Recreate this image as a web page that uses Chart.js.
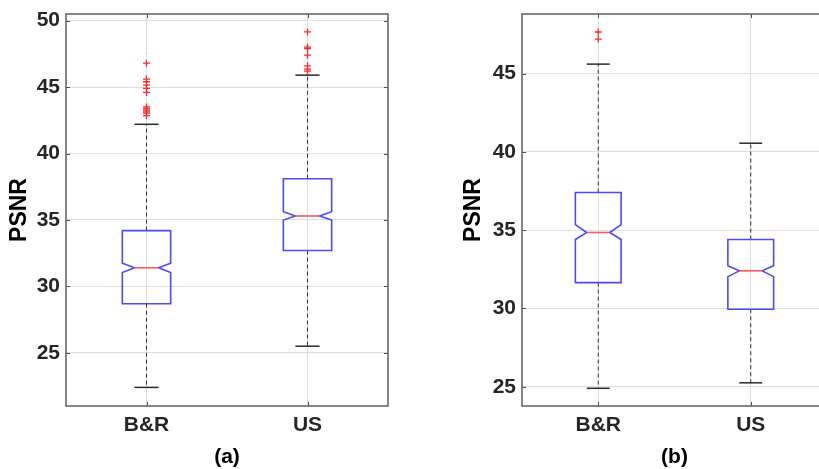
<!DOCTYPE html>
<html>
<head>
<meta charset="utf-8">
<script src="https://cdn.jsdelivr.net/npm/chart.js@4.4.0/dist/chart.umd.min.js"></script>
<style>
    html, body { margin: 0; padding: 0; background: #fff; overflow: hidden; width: 819px; height: 469px; }
    .panel { position: absolute; top: 0; }
</style>
</head>
<body>
<div class="panel" style="left:0"><canvas id="chartA" width="410" height="469"></canvas></div>
<div class="panel" style="left:410px"><canvas id="chartB" width="430" height="469"></canvas></div>
<script>
"use strict";
var categories = ["B&R", "US"];

// panel (a)
var aWhiskerLow = [22.4, 25.5];
var aQ1 = [28.7, 32.7];
var aMedian = [31.4, 35.3];
var aQ3 = [34.2, 38.1];
var aWhiskerHigh = [42.2, 45.9];
var aNotchLow = [31.05, 35.0];
var aNotchHigh = [31.75, 35.62];
var aOutliersBR = [46.8, 45.6, 45.4, 45.15, 44.9, 44.6, 43.5, 43.35, 43.2, 43.05, 42.85];
var aOutliersUS = [49.15, 48.0, 47.9, 47.4, 46.6, 46.35, 46.2];
var aTicks = [25, 30, 35, 40, 45, 50];

// panel (b)
var bWhiskerLow = [24.9, 25.25];
var bQ1 = [31.65, 29.95];
var bMedian = [34.85, 32.4];
var bQ3 = [37.4, 34.4];
var bWhiskerHigh = [45.6, 40.55];
var bNotchLow = [34.4, 32.03];
var bNotchHigh = [35.35, 32.73];
var bOutliersBR = [47.65, 47.2];
var bOutliersUS = [];
var bTicks = [25, 30, 35, 40, 45];

var FONT = "'Liberation Sans', Arial, Helvetica, sans-serif";

var notchedBoxes = {
    id: 'notchedBoxes',
    beforeDatasetsDraw: function (chart, args, o) {
        var ctx = chart.ctx, xs = chart.scales.x, ys = chart.scales.y;
        function line(x1, y1, x2, y2) {
            ctx.beginPath(); ctx.moveTo(x1, y1); ctx.lineTo(x2, y2); ctx.stroke();
        }
        ctx.save();
        for (var i = 0; i < o.median.length; i++) {
            var c = i + 1;
            var xc = xs.getPixelForValue(c);
            var xl = xs.getPixelForValue(c - 0.15), xr = xs.getPixelForValue(c + 0.15);
            var nl = xs.getPixelForValue(c - 0.075), nr = xs.getPixelForValue(c + 0.075);
            var ylo = ys.getPixelForValue(o.low[i]), yhi = ys.getPixelForValue(o.high[i]);
            var yq1 = ys.getPixelForValue(o.q1[i]), yq3 = ys.getPixelForValue(o.q3[i]);
            var ymed = ys.getPixelForValue(o.median[i]);
            var ynl = ys.getPixelForValue(o.notchLow[i]), ynh = ys.getPixelForValue(o.notchHigh[i]);

            // whiskers
            ctx.strokeStyle = '#333';
            ctx.lineWidth = 1;
            ctx.setLineDash([4, 3]);
            line(xc, yq3, xc, yhi);
            line(xc, yq1, xc, ylo);
            ctx.setLineDash([]);
            ctx.strokeStyle = '#2a2a2a';
            ctx.lineWidth = 1.5;
            line(nl, yhi, nr, yhi);
            line(nl, ylo, nr, ylo);

            // notched box
            ctx.strokeStyle = '#4a4aff';
            ctx.lineWidth = 1.6;
            ctx.lineJoin = 'miter';
            ctx.beginPath();
            ctx.moveTo(xl, yq1);
            ctx.lineTo(xl, ynl);
            ctx.lineTo(nl, ymed);
            ctx.lineTo(xl, ynh);
            ctx.lineTo(xl, yq3);
            ctx.lineTo(xr, yq3);
            ctx.lineTo(xr, ynh);
            ctx.lineTo(nr, ymed);
            ctx.lineTo(xr, ynl);
            ctx.lineTo(xr, yq1);
            ctx.closePath();
            ctx.stroke();

            ctx.strokeStyle = '#ff5a5a';
            line(nl, ymed, nr, ymed);
        }
        ctx.restore();
    },
    afterDraw: function (chart) {
        var ctx = chart.ctx, a = chart.chartArea, xs = chart.scales.x, ys = chart.scales.y;
        ctx.save();
        ctx.strokeStyle = '#4d4d4d';
        ctx.lineWidth = 1;
        ys.ticks.forEach(function (t) {
            var y = Math.round(ys.getPixelForValue(t.value)) + 0.5;
            ctx.beginPath();
            ctx.moveTo(a.left, y); ctx.lineTo(a.left + 4, y);
            ctx.moveTo(a.right, y); ctx.lineTo(a.right - 4, y);
            ctx.stroke();
        });
        xs.ticks.forEach(function (t) {
            var x = Math.round(xs.getPixelForValue(t.value)) + 0.5;
            ctx.beginPath();
            ctx.moveTo(x, a.top); ctx.lineTo(x, a.top + 4);
            ctx.moveTo(x, a.bottom); ctx.lineTo(x, a.bottom - 4);
            ctx.stroke();
        });
        ctx.strokeStyle = '#666';
        ctx.lineWidth = 1.6;
        ctx.strokeRect(a.left, a.top, a.right - a.left, a.bottom - a.top);
        ctx.restore();
    }
};

function makePanel(id, p) {
    var points = p.outBR.map(function (v) { return {x: 1, y: v}; })
        .concat(p.outUS.map(function (v) { return {x: 2, y: v}; }));
    return new Chart(document.getElementById(id), {
        type: 'scatter',
        data: {
            datasets: [{
                data: points,
                pointStyle: 'cross',
                pointRadius: 3.5,
                borderColor: '#ff2a2a',
                backgroundColor: '#ff2a2a',
                borderWidth: 1.3
            }]
        },
        options: {
            responsive: false,
            animation: false,
            layout: {padding: {left: 0, top: 14, right: p.padRight, bottom: 0}},
            plugins: {
                legend: {display: false},
                tooltip: {enabled: false},
                notchedBoxes: {
                    low: p.low, q1: p.q1, median: p.median, q3: p.q3, high: p.high,
                    notchLow: p.notchLow, notchHigh: p.notchHigh
                }
            },
            scales: {
                x: {
                    type: 'linear',
                    min: 0.5, max: 2.5,
                    afterBuildTicks: function (s) { s.ticks = [{value: 1}, {value: 2}]; },
                    ticks: {
                        callback: function (v) { return categories[v - 1]; },
                        autoSkip: false, maxRotation: 0, padding: 7,
                        color: '#262626',
                        font: {family: FONT, size: 21, weight: 'bold'}
                    },
                    grid: {color: '#dedede', lineWidth: 1, drawTicks: false},
                    border: {display: false},
                    title: {
                        display: true, text: p.label,
                        color: '#000',
                        font: {family: FONT, size: 21, weight: 'bold', lineHeight: 1},
                        padding: {top: 0, bottom: 1}
                    },
                    afterFit: function (s) { s.height = 63; s.paddingLeft = 0; s.paddingRight = 0; }
                },
                y: {
                    min: p.range[0], max: p.range[1],
                    afterBuildTicks: function (s) { s.ticks = p.ticks.map(function (v) { return {value: v}; }); },
                    ticks: {
                        padding: 6,
                        color: '#262626',
                        font: {family: FONT, size: 21, weight: 'bold'}
                    },
                    grid: {color: '#dedede', lineWidth: 1, drawTicks: false},
                    border: {display: false},
                    title: {
                        display: true, text: 'PSNR',
                        color: '#000',
                        font: {family: FONT, size: 23, weight: 'bold', lineHeight: 1},
                        padding: {top: p.titlePad, bottom: 0}
                    },
                    afterFit: function (s) { s.width = p.axisWidth; s.paddingTop = 0; s.paddingBottom = 0; }
                }
            }
        },
        plugins: [notchedBoxes]
    });
}

makePanel('chartA', {
    label: '(a)', range: [21, 50.5], ticks: aTicks,
    low: aWhiskerLow, q1: aQ1, median: aMedian, q3: aQ3, high: aWhiskerHigh,
    notchLow: aNotchLow, notchHigh: aNotchHigh,
    outBR: aOutliersBR, outUS: aOutliersUS,
    axisWidth: 66, titlePad: 8, padRight: 22
});

makePanel('chartB', {
    label: '(b)', range: [23.77, 48.8], ticks: bTicks,
    low: bWhiskerLow, q1: bQ1, median: bMedian, q3: bQ3, high: bWhiskerHigh,
    notchLow: bNotchLow, notchHigh: bNotchHigh,
    outBR: bOutliersBR, outUS: bOutliersUS,
    axisWidth: 112, titlePad: 52, padRight: 13
});
</script>
</body>
</html>
